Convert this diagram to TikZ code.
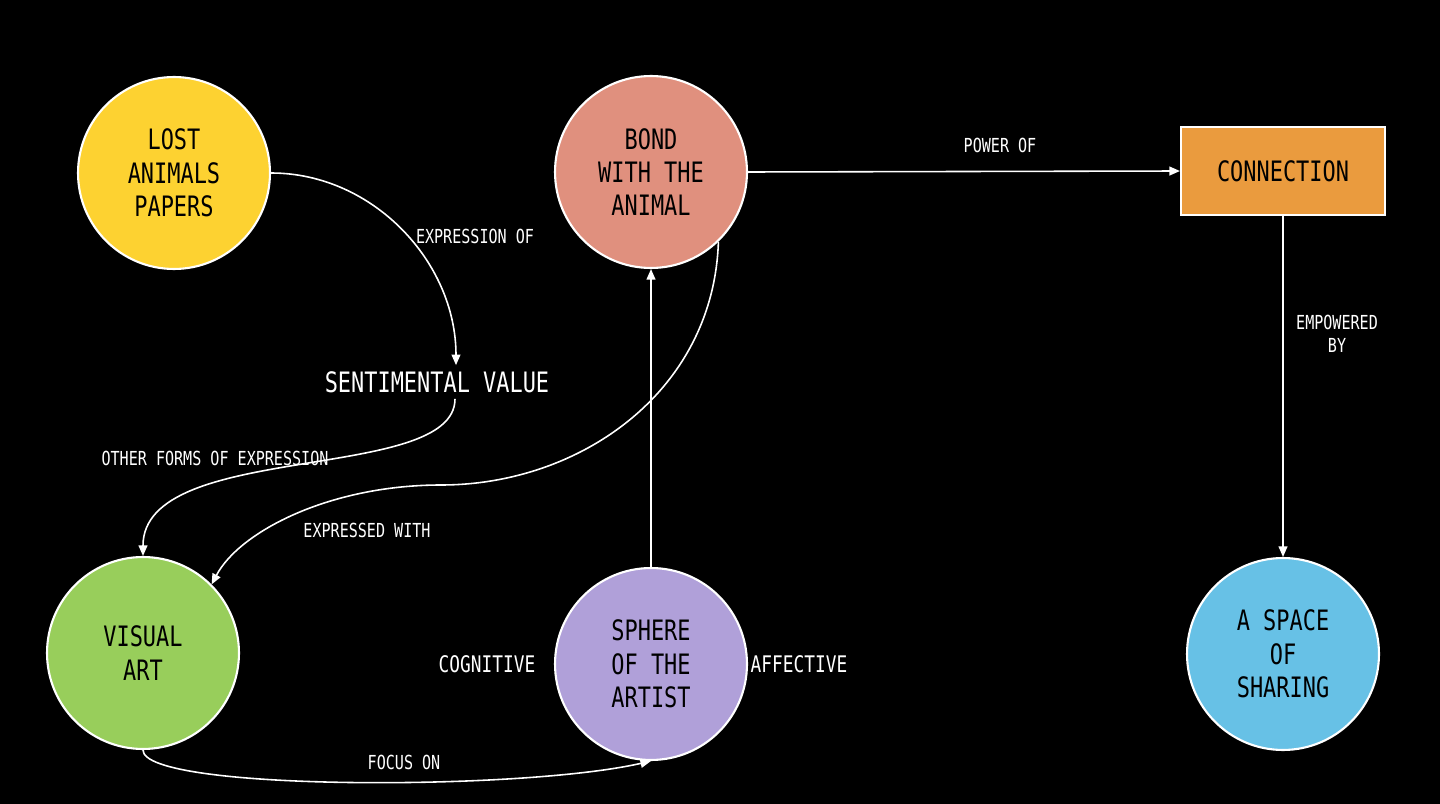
\documentclass[tikz,border=0pt]{standalone}
\usepackage{fontspec}
\setmainfont{DejaVu Sans Mono}[FakeStretch=0.78]
\usepackage{tikz}
\usetikzlibrary{arrows.meta, positioning}
\definecolor{lostyellow}{RGB}{253,210,49}
\definecolor{bondsalmon}{RGB}{224,144,126}
\definecolor{connorange}{RGB}{234,155,62}
\definecolor{artgreen}{RGB}{152,206,91}
\definecolor{spherelilac}{RGB}{176,160,217}
\definecolor{sharecyan}{RGB}{103,193,230}

\begin{document}
\begin{tikzpicture}[x=0.02cm, y=-0.02cm,
  bubble/.style={circle, draw=white, line width=1.2pt, minimum size=3.84cm, inner sep=0pt, align=center, text=black, font=\fontsize{16}{19}\selectfont},
  link/.style={white, line width=0.9pt, -{Triangle[width=5pt, length=6pt]}},
  tag/.style={text=white, font=\fontsize{11}{13}\selectfont}]
  % Background
  \fill[black] (0,0) rectangle (1440,804);

  % Concept circles and box
  \node[bubble, fill=lostyellow] (lost) at (174,173) {LOST\\ANIMALS\\PAPERS};
  \node[bubble, fill=bondsalmon] (bond) at (651,172) {BOND\\WITH THE\\ANIMAL};
  \node[draw=white, line width=1.2pt, fill=connorange, minimum width=4.08cm, minimum height=1.76cm, text=black, font=\fontsize{16}{19}\selectfont] (conn) at (1283,171) {CONNECTION};
  \node[text=white, font=\fontsize{16}{19}\selectfont] (senti) at (437,382) {SENTIMENTAL VALUE};
  \node[bubble, fill=artgreen] (visual) at (143,653) {VISUAL\\ART};
  \node[bubble, fill=spherelilac] (sphere) at (651,664) {SPHERE\\OF THE\\ARTIST};
  \node[bubble, fill=sharecyan] (share) at (1283,654) {A SPACE\\OF\\SHARING};

  % Link labels
  \node[tag] (powerof) at (1000,145) {POWER OF};
  \node[tag] (exprof) at (475,236) {EXPRESSION OF};
  \node[tag, align=center] (empow) at (1337,334) {EMPOWERED\\BY};
  \node[tag] (otherforms) at (215,458) {OTHER FORMS OF EXPRESSION};
  \node[tag] (exprwith) at (367,530) {EXPRESSED WITH};
  \node[tag, font=\fontsize{13}{15}\selectfont] (cogn) at (487,664) {COGNITIVE};
  \node[tag, font=\fontsize{13}{15}\selectfont] (affect) at (799,664) {AFFECTIVE};
  \node[tag] (focus) at (404,762) {FOCUS ON};

  % Bend point of the long S-curve
  \coordinate (bendmid) at (441,485);

  % Connectors
  \draw[link] (lost.east) .. controls +(102,0) and +(0,-103) .. ([xshift=0.38cm]senti.north);
  \draw[link] ([xshift=0.36cm]senti.south) .. controls +(0,85) and +(0,-116) .. (visual.north);
  \draw[link] (bond.-46) .. controls +(-5,150) and +(139,0) .. (bendmid)
    .. controls +(-111,0) and +(28,-53) .. (visual.45);
  \draw[link] (sphere.north) -- (bond.south);
  \draw[link] (bond.east) -- (conn.west);
  \draw[link] (conn.south) -- (share.north);
  \draw[link] (visual.south) .. controls +(0,41) and +(-131,30) .. (sphere.south);
\end{tikzpicture}
\end{document}
